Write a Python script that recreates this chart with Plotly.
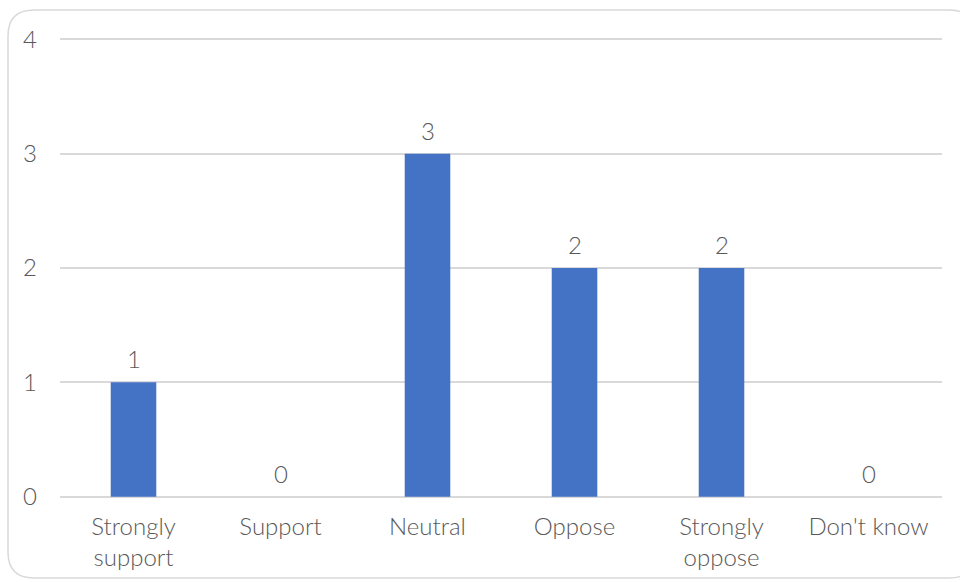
import plotly.graph_objects as go

categories = ["Strongly<br>support", "Support", "Neutral", "Oppose", "Strongly<br>oppose", "Don't know"]
counts = [1, 0, 3, 2, 2, 0]
y_ticks = [0, 1, 2, 3, 4]
y_range = [-0.02, 4.02]

W, H = 960, 582
ML, MR, MT, MB = 60, 18, 37, 83
PW, PH = W - ML - MR, H - MT - MB

def px(x):
    return (x - ML) / PW

def py(y):
    return (H - MB - y) / PH

FONT = "Lato"
GREY = "#595959"
FS = 24

fig = go.Figure(
    go.Bar(
        x=categories,
        y=counts,
        marker=dict(color="#4472C4", line=dict(width=0)),
        width=0.31,
        hoverinfo="x+y",
    )
)

# value labels above each bar
for cat, val in zip(categories, counts):
    fig.add_annotation(
        x=cat, y=val, text=str(val), showarrow=False,
        yanchor="bottom", yshift=7,
        font=dict(family=FONT, size=FS, color=GREY, weight=300),
    )

# rounded chart-area border
x0, x1, y0, y1, r = 8, 975, 10, 578, 26
path = (
    f"M {px(x0 + r)},{py(y0)} L {px(x1 - r)},{py(y0)} "
    f"Q {px(x1)},{py(y0)} {px(x1)},{py(y0 + r)} L {px(x1)},{py(y1 - r)} "
    f"Q {px(x1)},{py(y1)} {px(x1 - r)},{py(y1)} L {px(x0 + r)},{py(y1)} "
    f"Q {px(x0)},{py(y1)} {px(x0)},{py(y1 - r)} L {px(x0)},{py(y0 + r)} "
    f"Q {px(x0)},{py(y0)} {px(x0 + r)},{py(y0)} Z"
)
fig.add_shape(type="path", path=path, xref="paper", yref="paper",
              line=dict(color="#d9d9d9", width=1.5), layer="below")

fig.update_layout(
    width=W, height=H,
    margin=dict(l=ML, r=MR, t=MT, b=MB),
    paper_bgcolor="white", plot_bgcolor="white",
    font=dict(family=FONT, size=FS, color=GREY, weight=300),
    showlegend=False,
    xaxis=dict(
        showgrid=False, zeroline=False, showline=False, ticks="",
        tickfont=dict(family=FONT, size=FS, color=GREY, weight=300),
        ticklabelstandoff=11, automargin=False,
    ),
    yaxis=dict(
        range=y_range, tickvals=y_ticks, showgrid=True, gridcolor="#d9d9d9",
        gridwidth=1.5, zeroline=True, zerolinecolor="#d9d9d9", zerolinewidth=1.5,
        showline=False, ticks="", automargin=False,
        tickfont=dict(family=FONT, size=FS, color=GREY, weight=300),
        ticklabelstandoff=22,
    ),
)

fig.write_html("out.html")
